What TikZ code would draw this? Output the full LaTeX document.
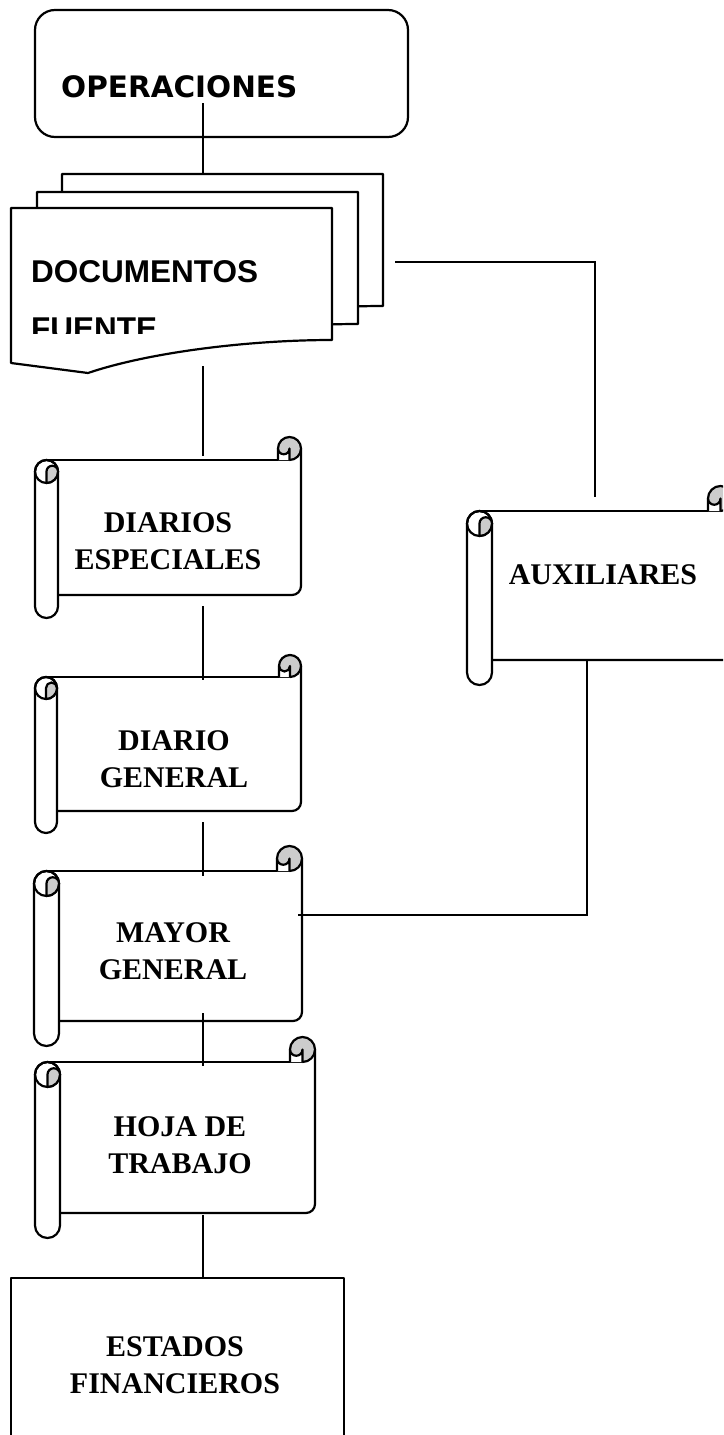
\documentclass[tikz,border=0pt]{standalone}
\usepackage{fontspec}
\setmainfont{Liberation Serif}
\newfontfamily\opsfont{DejaVu Sans}
\newfontfamily\docfont{Liberation Sans}
\newcommand\drawscroll[5]{%
 \pgfmathsetmacro\scL{#1}%
 \pgfmathsetmacro\scT{#2}%
 \pgfmathsetmacro\scR{#3}%
 \pgfmathsetmacro\scB{#4}%
 \pgfmathsetmacro\scC{#5}%
 \pgfmathsetmacro\scH{#5/2}%
 \pgfmathsetmacro\scQ{#5/4}%
 \fill[white] (\scL+\scH,\scT+\scC) rectangle (\scR,\scB-\scC);
 \draw[shapeline] (\scL+\scH,\scT+\scC) -- (\scR-\scH,\scT+\scC);
 \draw[shapeline] (\scR,\scT+\scH) -- (\scR,\scB-\scC-9) arc[start angle=0,end angle=90,radius=9] -- (\scL+\scC,\scB-\scC);
 \filldraw[shapeline,fill=white] (\scL,\scT+\scC+\scH) -- (\scL,\scB-\scH) arc[start angle=180,end angle=0,radius=\scH] -- (\scL+\scC,\scT+\scC+\scH) arc[start angle=0,end angle=-180,radius=\scH] -- cycle;
 \draw[shapeline] (\scL+\scH,\scT+\scC+\scH) circle[radius=\scH];
 \filldraw[shapeline,curlgray] (\scL+\scH,\scT+\scC+\scC) arc[start angle=90,end angle=0,radius=\scH] arc[start angle=0,end angle=-180,radius=\scQ] -- cycle;
 \fill[curlgray] (\scR-\scH,\scT+\scH) circle[radius=\scH];
 \fill[white] (\scR-\scC,\scT+\scH) -- (\scR-\scC,\scT+\scC) -- (\scR-\scH,\scT+\scC) -- (\scR-\scH,\scT+\scH) arc[start angle=0,end angle=180,radius=\scQ] -- cycle;
 \draw[shapeline] (\scR-\scC,\scT+\scC) -- (\scR-\scC,\scT+\scH) arc[start angle=180,end angle=450,radius=\scH];
 \draw[shapeline] (\scR-\scH,\scT+\scC) -- (\scR-\scH,\scT+\scH) arc[start angle=0,end angle=180,radius=\scQ];
}
\newcommand\docpage{%
 (11,208) -- (332,208) -- (332,340) .. controls (250,340) and (150,352) .. (88,373) -- (11,363) -- cycle}
\begin{document}
\begin{tikzpicture}[x=1pt,y=-1pt,
  shapeline/.style={line width=2.2pt, line join=round, draw=black},
  conn/.style={line width=2.2pt, draw=black},
  curlgray/.style={fill=black!20},
  lbl/.style={font=\bfseries\fontsize{30}{37}\selectfont, align=center, inner sep=0pt, anchor=north},
]
\useasboundingbox (0,0) rectangle (723,1435);
\clip (0,0) rectangle (723,1435);

% OPERACIONES
\draw[shapeline, rounded corners=20pt] (35,10) rectangle (408,137);
\node[font=\opsfont\bfseries\fontsize{29.5}{35}\selectfont, anchor=base west, inner sep=0pt] (ops) at (61,97) {OPERACIONES};

% DOCUMENTOS FUENTE (multi-document)
\filldraw[shapeline, fill=white, shift={(51,-34)}] \docpage;
\filldraw[shapeline, fill=white, shift={(26,-16)}] \docpage;
\filldraw[shapeline, fill=white] \docpage;
\node[font=\docfont\bfseries\fontsize{31.5}{37}\selectfont, anchor=base west, inner sep=0pt] (docs) at (31,282) {DOCUMENTOS};
\begin{scope}
  \clip (0,0) rectangle (723,333);
  \node[font=\docfont\bfseries\fontsize{31.5}{37}\selectfont, anchor=base west, inner sep=0pt] (fuente) at (31,339) {FUENTE};
\end{scope}

% scrolls
\drawscroll{35}{437}{301}{618}{23}
\drawscroll{35}{655}{301}{833}{22}
\drawscroll{34}{846}{302}{1046}{25}
\drawscroll{35}{1037}{315}{1238}{25}
\drawscroll{467}{486}{733}{685}{25}

\node[lbl] (diarios) at (168,512) {DIARIOS\\ESPECIALES};
\node[lbl] (dgeneral) at (174,730) {DIARIO\\GENERAL};
\node[lbl] (mayor) at (173,922) {MAYOR\\GENERAL};
\node[lbl] (hoja) at (180,1116) {HOJA DE\\TRABAJO};
\node[lbl] (aux) at (603,564) {AUXILIARES};

% ESTADOS FINANCIEROS
\draw[shapeline] (11,1440) -- (11,1278) -- (344,1278) -- (344,1440);
\node[lbl] (estados) at (175,1336) {ESTADOS\\FINANCIEROS};

% connectors
\coordinate (c1a) at (203,103); \coordinate (c1b) at (203,175);
\coordinate (c2a) at (203,366); \coordinate (c2b) at (203,456);
\coordinate (c3a) at (203,606); \coordinate (c3b) at (203,680);
\coordinate (c4a) at (203,822); \coordinate (c4b) at (203,876);
\coordinate (c5a) at (203,1013); \coordinate (c5b) at (203,1066);
\coordinate (c6a) at (203,1215); \coordinate (c6b) at (203,1278);
\coordinate (c7a) at (395,262); \coordinate (c7k) at (595,262); \coordinate (c7b) at (595,497);
\coordinate (c8a) at (587,661); \coordinate (c8k) at (587,915); \coordinate (c8b) at (298,915);
\draw[conn] (c1a) -- (c1b);
\draw[conn] (c2a) -- (c2b);
\draw[conn] (c3a) -- (c3b);
\draw[conn] (c4a) -- (c4b);
\draw[conn] (c5a) -- (c5b);
\draw[conn] (c6a) -- (c6b);
\draw[conn] (c7a) -- (c7k) -- (c7b);
\draw[conn] (c8a) -- (c8k) -- (c8b);
\end{tikzpicture}
\end{document}
